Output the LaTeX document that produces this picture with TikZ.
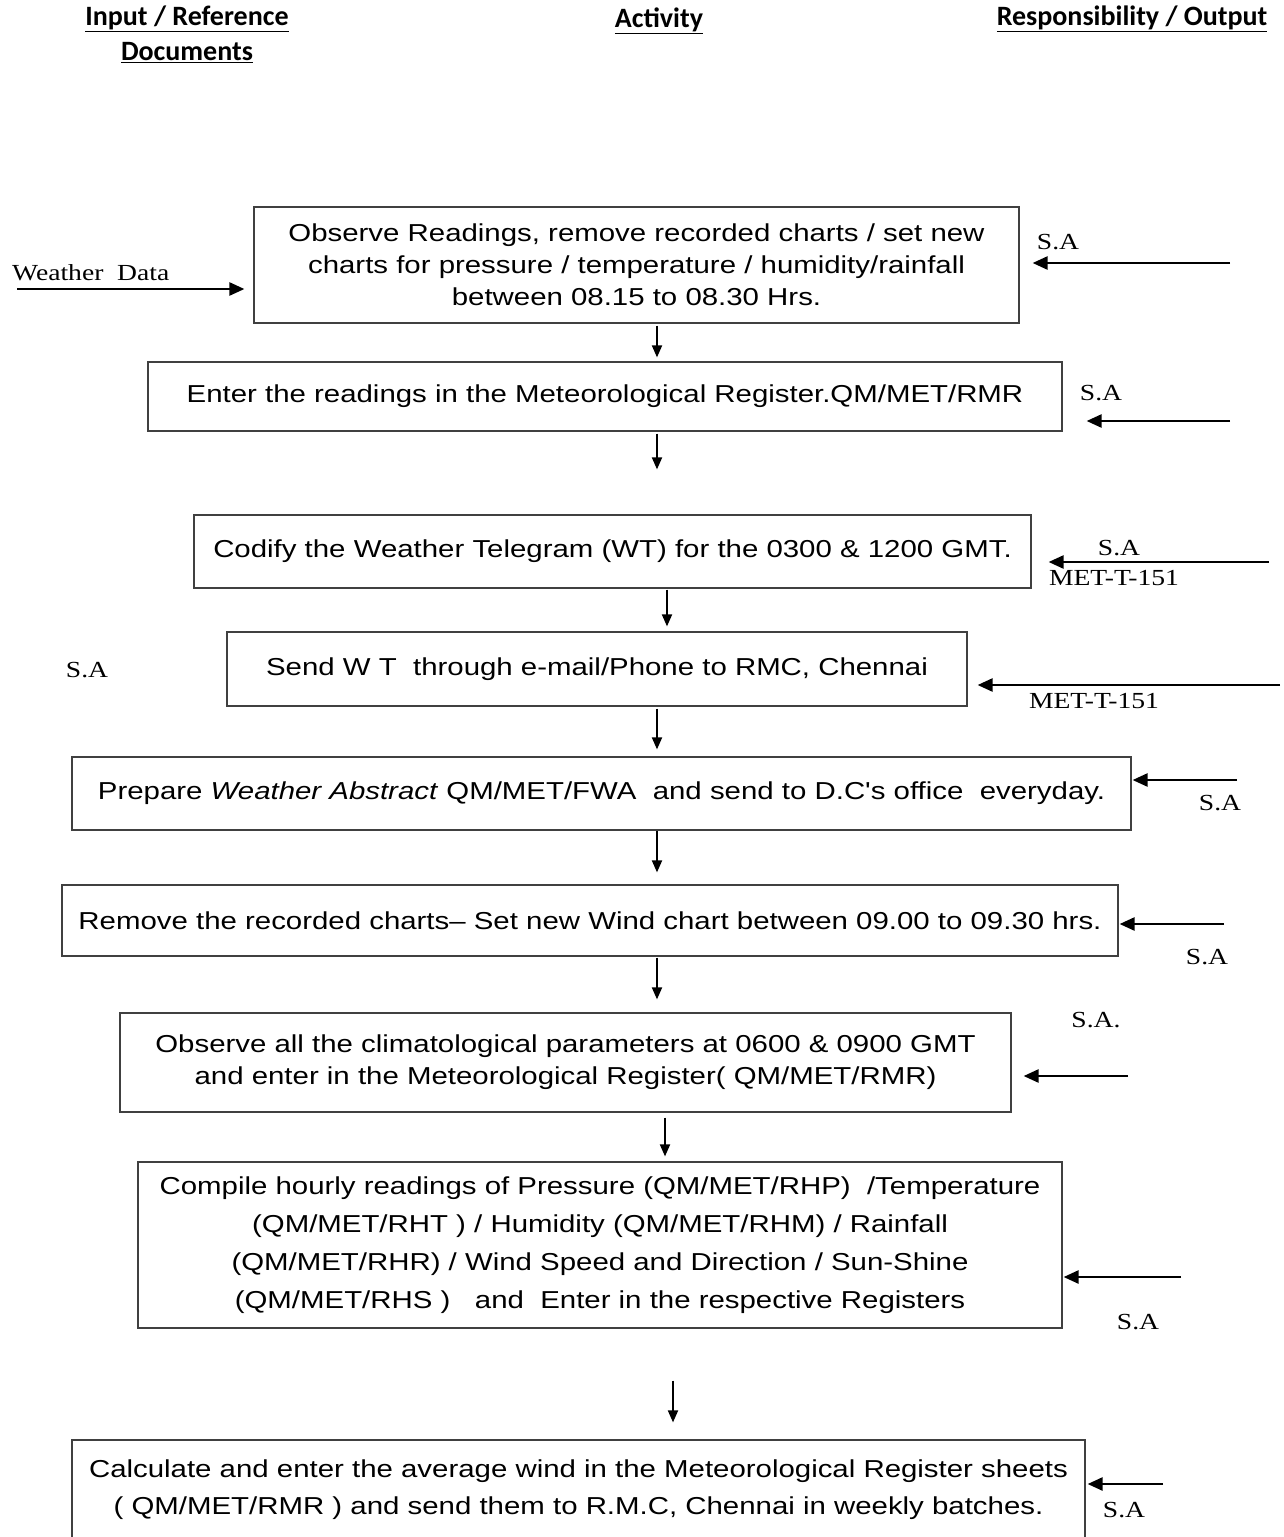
\documentclass[tikz,border=0pt]{standalone}
\usepackage{fontspec}
\usetikzlibrary{arrows.meta,calc}
\newfontfamily\arialf[FakeStretch=1.2]{Liberation Sans}
\newfontfamily\timesf[FakeStretch=1.2]{Liberation Serif}
\newfontfamily\calf{Carlito}
\begin{document}
\begin{tikzpicture}[x=1pt,y=-1pt,
 box/.style={draw=black!75, line width=1.2pt, inner sep=0pt, align=center,
   font=\arialf\fontsize{24.5}{32}\selectfont},
 lbl/.style={font=\timesf\fontsize{23}{26}\selectfont, inner sep=0pt},
 head/.style={font=\calf\bfseries\fontsize{28}{34}\selectfont, inner sep=0pt},
 harr/.style={line width=2.5pt, -{Triangle[length=15pt,width=13pt]}},
 varr/.style={line width=1.8pt, -{Triangle[length=12pt,width=10pt]}}]
\useasboundingbox (0,0) rectangle (1283,1537);
\fill[white] (0,0) rectangle (1283,1537);

% headings
\node[head] (h1) at (187,19) {\underline{Input / Reference}};
\node[head] (h2) at (187,53) {\underline{Documents}};
\node[head] (h3) at (659,21) {\underline{Activity}};
\node[head] (h4) at (1132,19) {\underline{Responsibility / Output}};

% boxes
\node[box, minimum width=765pt, minimum height=116pt] (b1) at (636.5,265)
  {Observe Readings, remove recorded charts / set new\\charts for pressure / temperature / humidity/rainfall\\between 08.15 to 08.30 Hrs.};
\node[box, minimum width=914pt, minimum height=69pt] (b2) at (605,396.5)
  {Enter the readings in the Meteorological Register.QM/MET/RMR};
\node[box, minimum width=837pt, minimum height=73pt] (b3) at (612.5,551.5)
  {Codify the Weather Telegram (WT) for the 0300 \& 1200 GMT.};
\node[box, minimum width=740pt, minimum height=74pt] (b4) at (597,669)
  {Send W T\ \ through e-mail/Phone to RMC, Chennai};
\node[box, minimum width=1059pt, minimum height=73pt] (b5) at (601.5,793.5)
  {Prepare \textit{Weather Abstract} QM/MET/FWA\ \ and send to D.C's office\ \ everyday.};
\node[box, minimum width=1056pt, minimum height=71pt] (b6) at (590,920.5)
  {Remove the recorded charts– Set new Wind chart between 09.00 to 09.30 hrs.};
\node[box, minimum width=891pt, minimum height=99pt] (b7) at (565.5,1062.5)
  {Observe all the climatological parameters at 0600 \& 0900 GMT\\and enter in the Meteorological Register( QM/MET/RMR)};
\node[box, minimum width=924pt, minimum height=166pt,
  font=\arialf\fontsize{24.5}{38}\selectfont] (b8) at (600,1245)
  {Compile hourly readings of Pressure (QM/MET/RHP)\ \ /Temperature\\(QM/MET/RHT ) / Humidity (QM/MET/RHM) / Rainfall\\(QM/MET/RHR) / Wind Speed and Direction / Sun-Shine\\(QM/MET/RHS )\ \ \ and\ \ Enter in the respective Registers};
\node[box, minimum width=1013pt, minimum height=100pt,
  font=\arialf\fontsize{24.5}{37}\selectfont] (b9) at (578.5,1490)
  {Calculate and enter the average wind in the Meteorological Register sheets\\( QM/MET/RMR ) and send them to R.M.C, Chennai in weekly batches.};

% x positions of down arrows
\coordinate (x657) at (657,0);
\coordinate (x667) at (667,0);
\coordinate (x665) at (665,0);
\coordinate (x673) at (673,0);

\draw[varr, shorten <=2pt, shorten >=4pt] (b1.south -| x657) -- (b2.north -| x657);
\draw[varr, shorten <=2pt, shorten >=45pt] (b2.south -| x657) -- (b3.north -| x657);
\draw[varr, shorten <=1pt, shorten >=5pt] (b3.south -| x667) -- (b4.north -| x667);
\draw[varr, shorten <=2pt, shorten >=7pt] (b4.south -| x657) -- (b5.north -| x657);
\draw[varr, shorten <=0pt, shorten >=12pt] (b5.south -| x657) -- (b6.north -| x657);
\draw[varr, shorten <=1pt, shorten >=13pt] (b6.south -| x657) -- (b7.north -| x657);
\draw[varr, shorten <=5pt, shorten >=5pt] (b7.south -| x665) -- (b8.north -| x665);
\draw[varr, shorten <=52pt, shorten >=17pt] (b8.south -| x673) -- (b9.north -| x673);

% input arrow
\node[lbl, anchor=west] (wd) at (12,273) {Weather\ \ Data};
\coordinate (w0) at (17,289);
\draw[harr, shorten >=9pt] (w0) -- (b1.west |- w0);

% responsibility arrows
\coordinate (t1) at (1230,263);
\coordinate (t2) at (1230,421);
\coordinate (t3) at (1269,562);
\coordinate (t4) at (1280,685);
\coordinate (t5) at (1237,780);
\coordinate (t6) at (1224,924);
\coordinate (t7) at (1128,1076);
\coordinate (t8) at (1181,1277);
\coordinate (t9) at (1163,1484);
\draw[harr, shorten >=13pt] (t1) -- (b1.east |- t1);
\draw[harr, shorten >=24pt] (t2) -- (b2.east |- t2);
\draw[harr, shorten >=17pt] (t3) -- (b3.east |- t3);
\draw[harr, shorten >=10pt] (t4) -- (b4.east |- t4);
\draw[harr, shorten >=1pt] (t5) -- (b5.east |- t5);
\draw[harr, shorten >=1pt] (t6) -- (b6.east |- t6);
\draw[harr, shorten >=12pt] (t7) -- (b7.east |- t7);
\draw[harr, shorten >=1pt] (t8) -- (b8.east |- t8);
\draw[harr, shorten >=2pt] (t9) -- (b9.east |- t9);

% labels
\node[lbl] (s1) at (1058,242) {S.A};
\node[lbl] (s2) at (1101,393) {S.A};
\node[lbl] (s3) at (1119,548) {S.A};
\node[lbl] (m3) at (1114,578) {MET-T-151};
\node[lbl] (s4) at (87,670) {S.A};
\node[lbl] (m4) at (1094,701) {MET-T-151};
\node[lbl] (s5) at (1220,803) {S.A};
\node[lbl] (s6) at (1207,957) {S.A};
\node[lbl] (s7) at (1096,1020) {S.A.};
\node[lbl] (s8) at (1138,1322) {S.A};
\node[lbl] (s9) at (1124,1510) {S.A};
\end{tikzpicture}
\end{document}
